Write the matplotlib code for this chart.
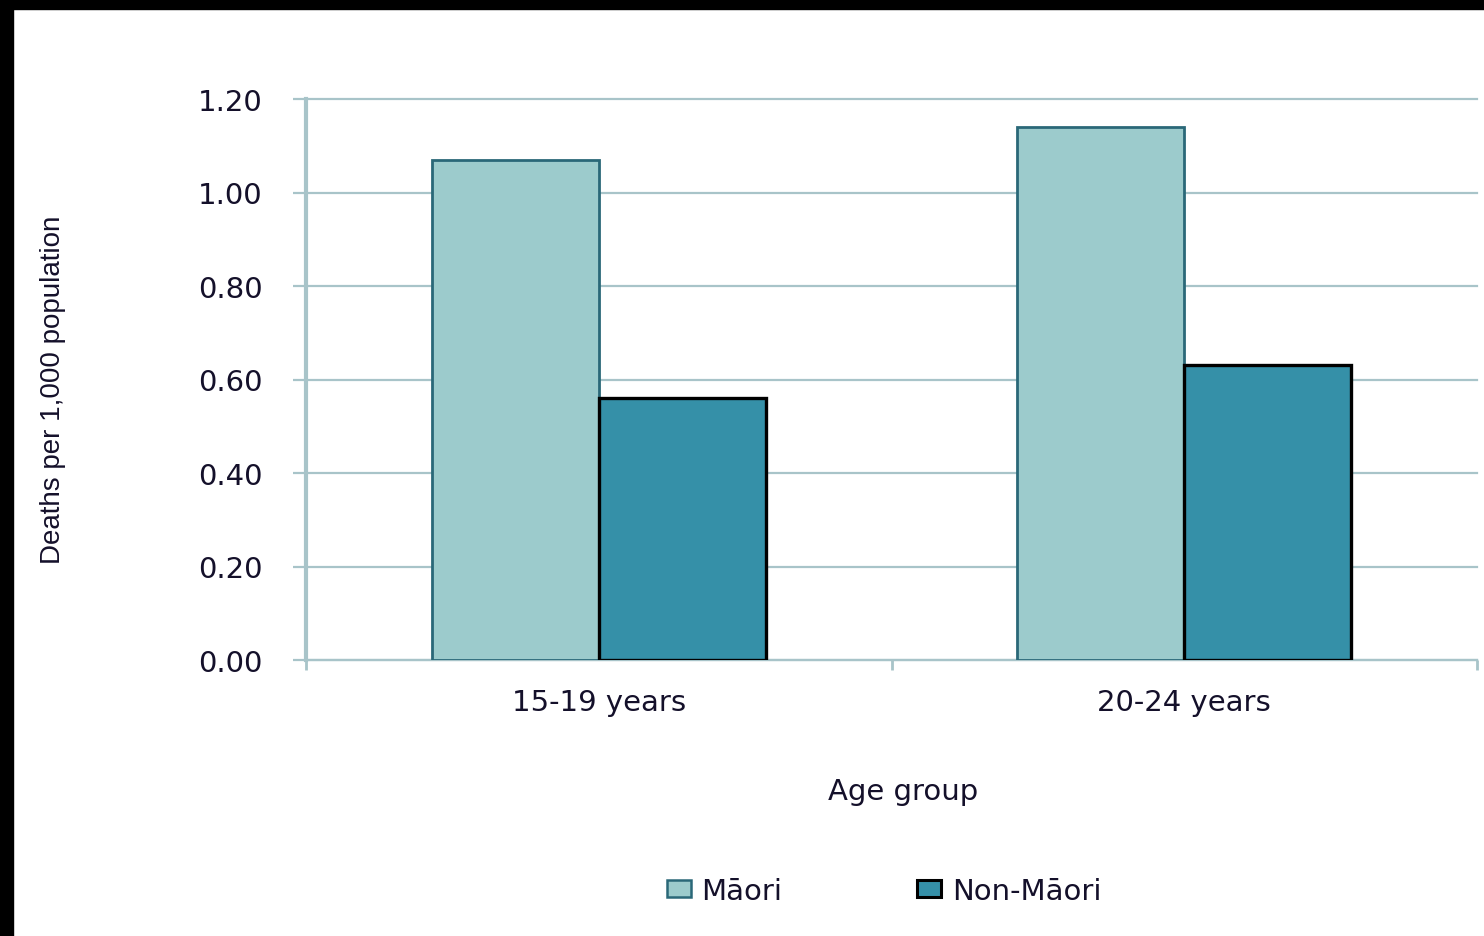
import matplotlib
matplotlib.use("Agg")
import matplotlib.pyplot as plt
from matplotlib.patches import Rectangle, Patch
import numpy as np

# data
categories = ['15-19 years', '20-24 years']
maori = [1.07, 1.14]
non_maori = [0.56, 0.63]
series_names = ['Māori', 'Non-Māori']
y_ticks = [0.0, 0.2, 0.4, 0.6, 0.8, 1.0, 1.2]

grid_col = '#a8c4c9'
text_col = '#14102a'
maori_fill, maori_edge = '#9ccbcc', '#2a6878'
non_fill, non_edge = '#3590a8', '#000000'

fig = plt.figure(figsize=(14.84, 9.37), dpi=100)
fig.patch.set_facecolor('white')

# black frame strips (left and top)
fig.add_artist(Rectangle((0, 0), 13 / 1484, 1, transform=fig.transFigure,
                         color='black', zorder=10))
fig.add_artist(Rectangle((0, 1 - 10 / 937), 1, 10 / 937, transform=fig.transFigure,
                         color='black', zorder=10))

ax = fig.add_axes([306 / 1484, 1 - 661 / 937, (1477 - 306) / 1484, (661 - 100) / 937])

x = np.arange(len(categories))
w = 0.285
ax.bar(x - w / 2, maori, w, color=maori_fill, edgecolor=maori_edge, linewidth=2, zorder=3)
ax.bar(x + w / 2, non_maori, w, color=non_fill, edgecolor=non_edge, linewidth=2.4, zorder=3)

ax.set_xlim(-0.5, len(categories) - 0.5)
ax.set_ylim(0, 1.2)

ax.set_yticks(y_ticks)
ax.set_yticklabels([f'{v:.2f}' for v in y_ticks])
ax.yaxis.grid(True, color=grid_col, linewidth=1.6, zorder=0)
for gl in ax.get_ygridlines():
    gl.set_clip_on(False)
ax.tick_params(axis='y', length=9.5, width=1.6, color=grid_col, pad=22,
               labelsize=21, labelcolor=text_col)

# category boundaries as major ticks, labels as minor ticks
ax.set_xticks(np.arange(-0.5, len(categories), 1.0))
ax.set_xticklabels([])
ax.set_xticks(x, minor=True)
ax.set_xticklabels(categories, minor=True)
ax.tick_params(axis='x', which='major', length=7, width=2, color=grid_col)
ax.tick_params(axis='x', which='minor', length=0, pad=20, labelsize=21, labelcolor=text_col)

for s in ['top', 'right']:
    ax.spines[s].set_visible(False)
ax.spines['left'].set_color(grid_col)
ax.spines['left'].set_linewidth(3)
ax.spines['bottom'].set_color(grid_col)
ax.spines['bottom'].set_linewidth(1.6)
ax.set_axisbelow(True)

fig.text(903 / 1484, 1 - 792 / 937, 'Age group', ha='center', va='center',
         fontsize=21, color=text_col)
fig.text(53 / 1484, 1 - 390 / 937, 'Deaths per 1,000 population', rotation=90,
         ha='center', va='center', fontsize=20, color=text_col,
         family=['Liberation Sans', 'DejaVu Sans'])

handles = [Patch(facecolor=maori_fill, edgecolor=maori_edge, linewidth=1.8),
           Patch(facecolor=non_fill, edgecolor=non_edge, linewidth=2.2)]
fig.legend(handles, series_names, loc='center left',
           bbox_to_anchor=(652 / 1484, 1 - 892 / 937), ncol=2, frameon=False,
           fontsize=21, labelcolor=text_col, borderpad=0, handlelength=0.82,
           handleheight=0.55, handletextpad=0.38, columnspacing=4.6)

fig.savefig('out.png', dpi=100, facecolor='white')
